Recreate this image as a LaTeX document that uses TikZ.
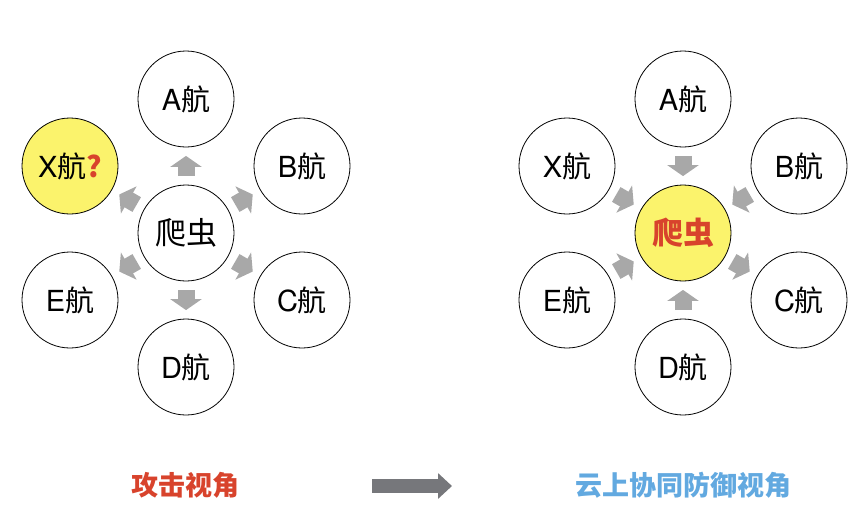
\documentclass[tikz,border=0pt]{standalone}
\usepackage{fontspec}
\setmainfont{Noto Sans CJK SC}
\newfontfamily\latinsans{TeX Gyre Heros}
\usetikzlibrary{arrows.meta}
\definecolor{hlyellow}{HTML}{FBF36C}
\definecolor{txtred}{HTML}{D8432C}
\definecolor{txtblue}{HTML}{62A9E0}
\definecolor{arrgray}{HTML}{A8A8A8}
\definecolor{biggray}{HTML}{76777B}
\newcommand{\hang}[1]{{\latinsans #1}航}

\begin{document}
\begin{tikzpicture}[x=1pt,y=-1pt,
    site/.style={circle,draw,line width=0.8pt,fill=white,minimum size=96pt,inner sep=0pt,
      font=\fontsize{29}{29}\selectfont},
    push/.style={draw=arrgray,line width=17pt,-{Triangle[width=31pt,length=11pt]},
      shorten <=8.5pt,shorten >=8.5pt},
    caption/.style={font=\fontsize{27}{27}\selectfont\bfseries}]
  \useasboundingbox (0,0) rectangle (864,531);

  %% left: attack view
  \node[site] (LT) at (186,233) {\fontsize{31}{31}\selectfont 爬虫};
  \node[site] (LA) at (186,99)  {\hang{A}};
  \node[site] (LB) at (302,166) {\hang{B}};
  \node[site] (LC) at (302,300) {\hang{C}};
  \node[site] (LD) at (186,367) {\hang{D}};
  \node[site] (LE) at (70,300)  {\hang{E}};
  \node[site,fill=hlyellow] (LX) at (70,166) {\hang{X}{\color{txtred}\bfseries ?}};

  \draw[push] (LT) -- (LA);
  \draw[push] (LT) -- (LB);
  \draw[push] (LT) -- (LC);
  \draw[push] (LT) -- (LD);
  \draw[push] (LT) -- (LE);
  \draw[push] (LT) -- (LX);

  %% right: cloud joint defence view
  \node[site,fill=hlyellow] (RT) at (683,233) {\fontsize{31}{31}\selectfont\bfseries\color{txtred}爬虫};
  \node[site] (RA) at (683,99)  {\hang{A}};
  \node[site] (RB) at (799,166) {\hang{B}};
  \node[site] (RC) at (799,300) {\hang{C}};
  \node[site] (RD) at (683,367) {\hang{D}};
  \node[site] (RE) at (567,300) {\hang{E}};
  \node[site] (RX) at (567,166) {\hang{X}};

  \draw[push] (RA) -- (RT);
  \draw[push] (RB) -- (RT);
  \draw[push] (RT) -- (RC);
  \draw[push] (RD) -- (RT);
  \draw[push] (RE) -- (RT);
  \draw[push] (RX) -- (RT);

  %% captions
  \node[caption,text=txtred]  (CAPL) at (185,485) {攻击视角};
  \node[caption,text=txtblue] (CAPR) at (683,485) {云上协同防御视角};
  \coordinate (ARRL) at (372,486);
  \coordinate (ARRR) at (452,486);
  \draw[draw=biggray,line width=13.5pt,-{Triangle[width=25pt,length=14pt]}] (ARRL) -- (ARRR);
\end{tikzpicture}
\end{document}
